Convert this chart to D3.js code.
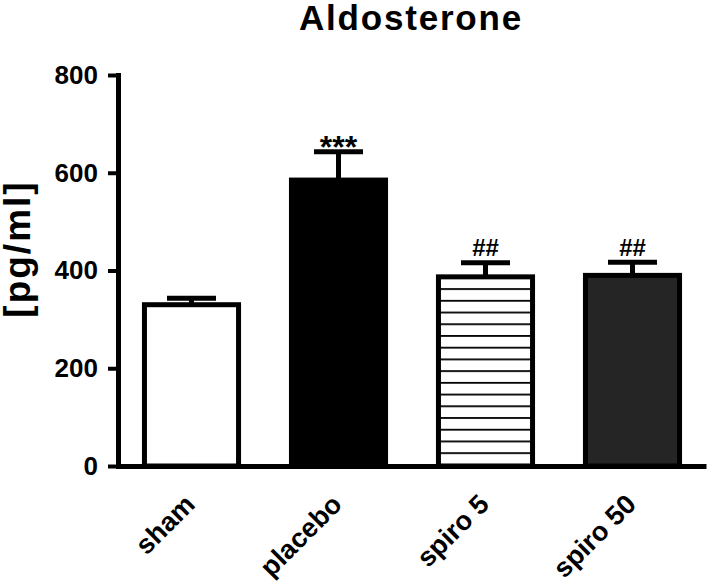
<!DOCTYPE html>
<html>
<head>
<meta charset="utf-8">
<script src="https://cdn.jsdelivr.net/npm/d3@7"></script>
<style>
  html, body { margin: 0; padding: 0; background: #fff; }
  svg { display: block; }
  text { font-family: "Liberation Sans", Arial, Helvetica, sans-serif; font-weight: bold; fill: #000; }
</style>
</head>
<body>
<svg id="chart" width="709" height="587"></svg>
<script>
// ---- data ----
const categories = ["sham", "placebo", "spiro 5", "spiro 50"];
const means = [330, 585, 387, 390];
const sems = [13, 58, 29, 27];
const significance = ["", "***", "##", "##"];
const yTicks = [0, 200, 400, 600, 800];
const titleText = "Aldosterone";
const yLabel = "[pg/ml]";

// ---- styles ----
const fills = ["#ffffff", "#000000", "url(#hstripes)", "#252525"];
const stroke = 5;

const svg = d3.select("#chart");
const x = d3.scaleBand().domain(categories).range([118, 706]).paddingInner(0.36).paddingOuter(0.18);
const y = d3.scaleLinear().domain([0, 800]).range([466, 75]);

// pattern for horizontal stripes
const defs = svg.append("defs");
const pat = defs.append("pattern")
  .attr("id", "hstripes")
  .attr("patternUnits", "userSpaceOnUse")
  .attr("width", 20).attr("height", 11.72)
  .attr("y", y(means[2]) + 11.3);
pat.append("rect").attr("width", 20).attr("height", 11.72).attr("fill", "#fff");
pat.append("rect").attr("y", 0).attr("width", 20).attr("height", 1.8).attr("fill", "#000");

const data = categories.map((c, i) => ({ c, m: means[i], s: sems[i], sig: significance[i], fill: fills[i] }));

// error bars (behind bars)
const eb = svg.append("g");
eb.selectAll("line.stem").data(data).join("line")
  .attr("x1", d => x(d.c) + x.bandwidth() / 2)
  .attr("x2", d => x(d.c) + x.bandwidth() / 2)
  .attr("y1", d => y(d.m))
  .attr("y2", d => y(d.m + d.s))
  .attr("stroke", "#000").attr("stroke-width", 5);
eb.selectAll("line.cap").data(data).join("line")
  .attr("x1", d => x(d.c) + x.bandwidth() / 2 - 24.5)
  .attr("x2", d => x(d.c) + x.bandwidth() / 2 + 24.5)
  .attr("y1", d => y(d.m + d.s))
  .attr("y2", d => y(d.m + d.s))
  .attr("stroke", "#000").attr("stroke-width", 5);

// bars
svg.append("g").selectAll("rect").data(data).join("rect")
  .attr("x", d => x(d.c))
  .attr("width", x.bandwidth())
  .attr("y", d => y(d.m))
  .attr("height", d => y(0) - y(d.m))
  .attr("fill", d => d.fill)
  .attr("stroke", "#000")
  .attr("stroke-width", stroke);

// significance marks
svg.append("g").selectAll("text").data(data.filter(d => d.sig)).join("text")
  .attr("x", d => x(d.c) + x.bandwidth() / 2)
  .attr("y", d => d.sig === "***" ? y(d.m + d.s) + 6 : y(d.m + d.s) - 6.5)
  .attr("text-anchor", "middle")
  .style("font-size", d => d.sig === "***" ? "32px" : "24px")
  .text(d => d.sig);

// y axis
const yAxis = svg.append("g").attr("transform", "translate(118,0)")
  .call(d3.axisLeft(y).tickValues(yTicks).tickSize(10).tickSizeOuter(0).tickPadding(10));
yAxis.select(".domain").attr("stroke", "#000").attr("stroke-width", 5).attr("stroke-linecap", "square");
yAxis.selectAll(".tick line").attr("stroke", "#000").attr("stroke-width", 4);
yAxis.selectAll(".tick text").style("font-size", "26px").style("font-family", "Liberation Sans, Arial, sans-serif").style("font-weight", "bold").attr("fill", "#000");

// x axis
const xAxis = svg.append("g").attr("transform", "translate(0,466)")
  .call(d3.axisBottom(x).tickSize(0).tickSizeOuter(0).tickPadding(0));
xAxis.select(".domain").attr("stroke", "#000").attr("stroke-width", 5);
xAxis.selectAll(".tick text")
  .style("font-size", "27px").style("font-family", "Liberation Sans, Arial, sans-serif").style("font-weight", "bold").attr("fill", "#000")
  .attr("text-anchor", "end")
  .attr("dy", null)
  .attr("y", 0)
  .attr("transform", "translate(5,40) rotate(-45)");

// title
svg.append("text").attr("x", 411).attr("y", 29.5).attr("text-anchor", "middle")
  .style("font-size", "35px").style("letter-spacing", "1.8px").text(titleText);

// y label
svg.append("text").attr("transform", "translate(30,249) rotate(-90)").attr("text-anchor", "middle")
  .style("font-size", "37px").style("letter-spacing", "2px").text(yLabel);
</script>
</body>
</html>
